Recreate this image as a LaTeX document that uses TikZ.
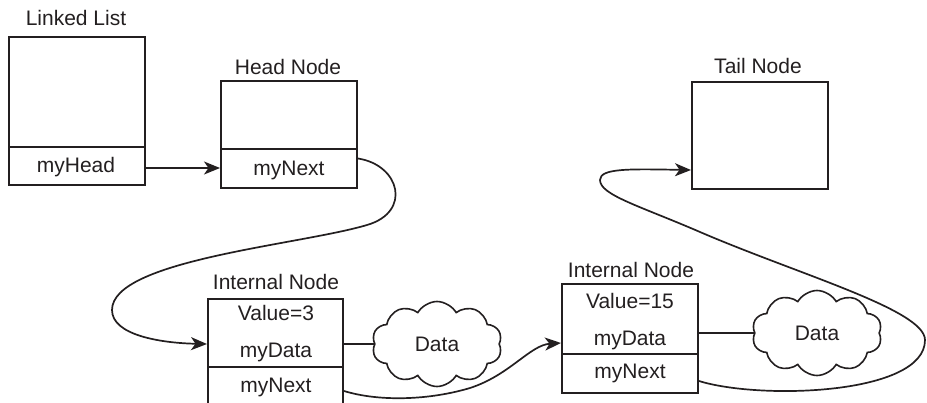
\documentclass[tikz,border=0pt]{standalone}
\usepackage{fontspec}
\setmainfont{Liberation Sans}
\usetikzlibrary{shapes.symbols,arrows.meta,calc}
\definecolor{ink}{HTML}{231F20}
\begin{document}
\begin{tikzpicture}[x=1pt,y=-1pt,
  box/.style={draw=ink, line width=2pt, inner sep=0pt, anchor=north west},
  lbl/.style={anchor=base, inner sep=0pt, text=ink, font=\fontsize{21}{25}\selectfont},
  link/.style={draw=ink, line width=1.7pt},
  arr/.style={link, -{Stealth[length=16pt,width=13pt,inset=4.5pt]}},
  datacloud/.style={cloud, draw=ink, line width=1.6pt, cloud puffs=10, cloud puff arc=120, cloud ignores aspect, minimum width=130pt, minimum height=85pt, inner sep=0pt, text=ink, font=\fontsize{21}{25}\selectfont}
]
\useasboundingbox (0,0) rectangle (927,402);
\clip (0,0) rectangle (927,402);

% Linked List
\node[box, minimum width=136pt, minimum height=110pt] (llTop) at (8,36) {};
\node[box, minimum width=136pt, minimum height=38pt] (llBot) at (8,146) {};
\node[lbl] (llTitle) at (76,25) {Linked List};
\node[lbl] (llHead) at (76,172) {myHead};

% Head Node
\node[box, minimum width=136pt, minimum height=68pt] (headTop) at (220,80) {};
\node[box, minimum width=136pt, minimum height=39pt] (headBot) at (220,148) {};
\node[lbl] (headTitle) at (288,74) {Head Node};
\node[lbl] (headNext) at (289,175) {myNext};

% Tail Node
\node[box, minimum width=136pt, minimum height=107pt] (tail) at (691,81) {};
\node[lbl] (tailTitle) at (758,73) {Tail Node};

% Internal Node 1
\node[box, minimum width=135pt, minimum height=68pt] (int1Top) at (207,298) {};
\node[box, minimum width=135pt, minimum height=44pt] (int1Bot) at (207,366) {};
\node[lbl] (int1Title) at (276,289) {Internal Node};
\node[lbl] (int1Val) at (276,320) {Value=3};
\node[lbl] (int1Data) at (276,357) {myData};
\node[lbl] (int1Next) at (276,392) {myNext};

% Internal Node 2
\node[box, minimum width=136pt, minimum height=70pt] (int2Top) at (561,283) {};
\node[box, minimum width=136pt, minimum height=39pt] (int2Bot) at (561,353) {};
\node[lbl] (int2Title) at (631,277) {Internal Node};
\node[lbl] (int2Val) at (630,308) {Value=15};
\node[lbl] (int2Data) at (630,345) {myData};
\node[lbl] (int2Next) at (630,378) {myNext};

% Clouds
\node[datacloud] (cloud1) at (437,344) {Data};
\node[datacloud] (cloud2) at (817,333) {Data};

\draw[link] (cloud1.west) -- (cloud1.west -| int1Top.east);
\draw[link] (cloud2.west) -- (cloud2.west -| int2Top.east);

% Connectors
\draw[arr] ([yshift=-2pt]llBot.east) -- ([yshift=-2pt]llBot.east -| headBot.west);

\draw[arr] ([yshift=10pt]headBot.east) .. controls (400,165) and (412,212) .. (367,225)
  .. controls (300,245) and (112,260) .. (112,310)
  .. controls (112,335) and (160,343) .. ([yshift=-11pt]int1Top.west);

\draw[arr] ([yshift=-2pt]int1Bot.east) .. controls (380,402) and (430,400) .. (470,388)
  .. controls (510,375) and (530,345) .. ([yshift=-24pt]int2Top.west);

\draw[arr] ([yshift=-7.5pt]int2Bot.east) .. controls (760,400) and (925,395) .. (925,340)
  .. controls (925,310) and (800,275) .. (700,232)
  .. controls (640,206) and (600,195) .. (600,180)
  .. controls (600,168) and (630,169) .. ([yshift=-34.5pt]tail.west);
\end{tikzpicture}
\end{document}
